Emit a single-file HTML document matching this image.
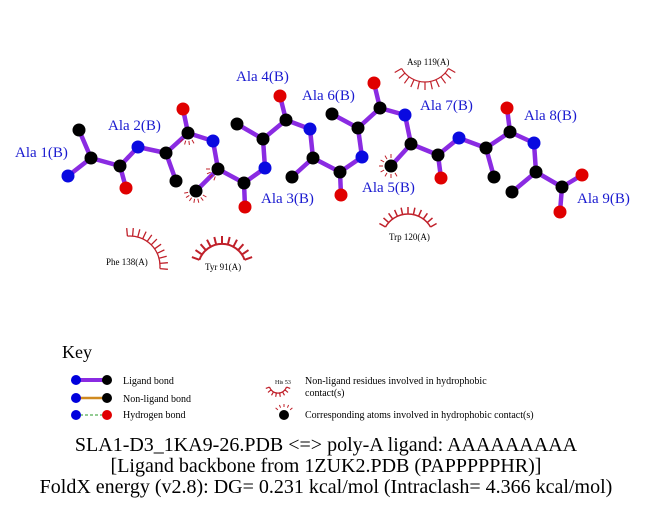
<!DOCTYPE html>
<html><head><meta charset="utf-8"><style>
html,body{margin:0;padding:0;background:#fff;}
svg{display:block}
.lbl{font-family:"Liberation Serif",serif;font-size:15px;fill:#1a1ad0}
.sm{font-family:"Liberation Serif",serif;font-size:9px;fill:#000}
.ft{font-family:"Liberation Serif",serif;font-size:20px;fill:#000}
.ky{font-family:"Liberation Serif",serif;font-size:10px;fill:#000}
</style></head><body>
<svg id="s" width="651" height="511" viewBox="0 0 651 511" xmlns="http://www.w3.org/2000/svg">
<g id="bonds" stroke="#8a2be2" stroke-width="4.5" stroke-linecap="round" fill="none"></g>
<g id="hyd" stroke="#c0202a" stroke-width="1.2" fill="none"></g>
<g id="atoms"></g>
<text class="lbl" x="15" y="157">Ala 1(B)</text>
<text class="lbl" x="108" y="130">Ala 2(B)</text>
<text class="lbl" x="261" y="203">Ala 3(B)</text>
<text class="lbl" x="236" y="81">Ala 4(B)</text>
<text class="lbl" x="362" y="192">Ala 5(B)</text>
<text class="lbl" x="302" y="100">Ala 6(B)</text>
<text class="lbl" x="420" y="110">Ala 7(B)</text>
<text class="lbl" x="524" y="120">Ala 8(B)</text>
<text class="lbl" x="577" y="203">Ala 9(B)</text>
<text class="sm" x="106" y="265">Phe 138(A)</text>
<text class="sm" x="205" y="270">Tyr 91(A)</text>
<text class="sm" x="407" y="65">Asp 119(A)</text>
<text class="sm" x="389" y="240">Trp 120(A)</text>
<text x="62" y="358" style="font-family:'Liberation Serif',serif;font-size:18px">Key</text>
<line x1="76" y1="380" x2="107" y2="380" stroke="#8a2be2" stroke-width="4"/>
<circle cx="76" cy="380" r="5" fill="#0000dd"/><circle cx="107" cy="380" r="5" fill="#000"/>
<text class="ky" x="123" y="384">Ligand bond</text>
<line x1="76" y1="398" x2="107" y2="398" stroke="#d08a20" stroke-width="2.5"/>
<circle cx="76" cy="398" r="5" fill="#0000dd"/><circle cx="107" cy="398" r="5" fill="#000"/>
<text class="ky" x="123" y="402">Non-ligand bond</text>
<line x1="80" y1="415" x2="104" y2="415" stroke="#2a9a2a" stroke-width="1" stroke-dasharray="3 2"/>
<circle cx="76" cy="415" r="5" fill="#0000dd"/><circle cx="107" cy="415" r="5" fill="#e00000"/>
<text class="ky" x="123" y="418">Hydrogen bond</text>
<text x="275" y="384" style="font-family:'Liberation Serif',serif;font-size:6px">His 53</text>
<text class="ky" x="305" y="384">Non-ligand residues involved in hydrophobic</text>
<text class="ky" x="305" y="396">contact(s)</text>
<circle cx="284" cy="415" r="5" fill="#000"/>
<text class="ky" x="305" y="418">Corresponding atoms involved in hydrophobic contact(s)</text>
<text class="ft" x="326" y="451" text-anchor="middle">SLA1-D3_1KA9-26.PDB &lt;=&gt; poly-A ligand: AAAAAAAAA</text>
<text class="ft" x="326" y="472" text-anchor="middle">[Ligand backbone from 1ZUK2.PDB (PAPPPPPHR)]</text>
<text class="ft" x="326" y="493" text-anchor="middle">FoldX energy (v2.8): DG= 0.231 kcal/mol (Intraclash= 4.366 kcal/mol)</text>
</svg>
<script>
var NS="http://www.w3.org/2000/svg";
var A={
n1:[68,176,'b'],ca1:[91,158,'k'],cb1:[79,130,'k'],c1:[120,166,'k'],o1:[126,188,'r'],
n2:[138,147,'b'],ca2:[166,153,'k'],cb2:[176,181,'k'],c2:[188,133,'k'],o2:[183,109,'r'],
n3:[213,141,'b'],ca3:[218,169,'k'],cb3:[196,191,'k'],c3:[244,183,'k'],o3:[245,207,'r'],
n4:[265,168,'b'],ca4:[263,139,'k'],cb4:[237,124,'k'],c4:[286,120,'k'],o4:[280,96,'r'],
n5:[310,129,'b'],ca5:[313,158,'k'],cb5:[292,177,'k'],c5:[340,172,'k'],o5:[341,195,'r'],
n6:[362,157,'b'],ca6:[358,128,'k'],cb6:[332,114,'k'],c6:[380,108,'k'],o6:[374,83,'r'],
n7:[405,115,'b'],ca7:[411,144,'k'],cb7:[391,166,'k'],c7:[438,155,'k'],o7:[441,178,'r'],
n8:[459,138,'b'],ca8:[486,148,'k'],cb8:[494,177,'k'],c8:[510,132,'k'],o8:[507,108,'r'],
n9:[534,143,'b'],ca9:[536,172,'k'],cb9:[512,192,'k'],c9:[562,187,'k'],o9:[582,175,'r'],ox:[560,212,'r']};
var B=[];
for(var i=1;i<=9;i++){B.push(['n'+i,'ca'+i],['ca'+i,'cb'+i],['ca'+i,'c'+i],['c'+i,'o'+i]);if(i<9)B.push(['c'+i,'n'+(i+1)]);}
B.push(['c9','ox']);
var gb=document.getElementById('bonds'),ga=document.getElementById('atoms'),gh=document.getElementById('hyd');
B.forEach(function(b){var l=document.createElementNS(NS,'line');var p=A[b[0]],q=A[b[1]];
l.setAttribute('x1',p[0]);l.setAttribute('y1',p[1]);l.setAttribute('x2',q[0]);l.setAttribute('y2',q[1]);gb.appendChild(l);});
var col={b:'#0a0ae0',k:'#000',r:'#e00000'};
for(var k in A){var c=document.createElementNS(NS,'circle');c.setAttribute('cx',A[k][0]);c.setAttribute('cy',A[k][1]);c.setAttribute('r',6.5);c.setAttribute('fill',col[A[k][2]]);ga.appendChild(c);}
function arc(cx,cy,r,a0,a1,n,len,w,base){var d='';
 for(var i=0;i<n;i++){var a=(a0+(a1-a0)*i/(n-1))*Math.PI/180;var x1=cx+r*Math.cos(a),y1=cy+r*Math.sin(a),x2=cx+(r+len)*Math.cos(a),y2=cy+(r+len)*Math.sin(a);d+='M'+x1.toFixed(1)+' '+y1.toFixed(1)+'L'+x2.toFixed(1)+' '+y2.toFixed(1);}
 if(base){var s=a0*Math.PI/180,e=a1*Math.PI/180;d+='M'+(cx+r*Math.cos(s)).toFixed(1)+' '+(cy+r*Math.sin(s)).toFixed(1)+'A'+r+' '+r+' 0 0 1 '+(cx+r*Math.cos(e)).toFixed(1)+' '+(cy+r*Math.sin(e)).toFixed(1);}
 var p=document.createElementNS(NS,'path');p.setAttribute('d',d);p.setAttribute('stroke-width',w);gh.appendChild(p);}
arc(130,266,30,-95,5,11,8,1.3,true);
arc(222,268,24,200,340,11,8,2,true);
arc(425,55,27,30,150,11,8,1.2,true);
arc(408,240,26,210,330,11,7,1.5,true);
arc(278,384,9,20,160,8,4,1.2,true);
arc(284,415,8,220,320,5,3,1,false);
arc(196,191,8,30,170,7,4,1,false);
arc(218,169,8,110,180,4,4,1,false);
arc(188,133,8,60,130,4,4,1,false);
arc(391,166,8,60,270,8,4,1,false);
</script>
</body></html>
